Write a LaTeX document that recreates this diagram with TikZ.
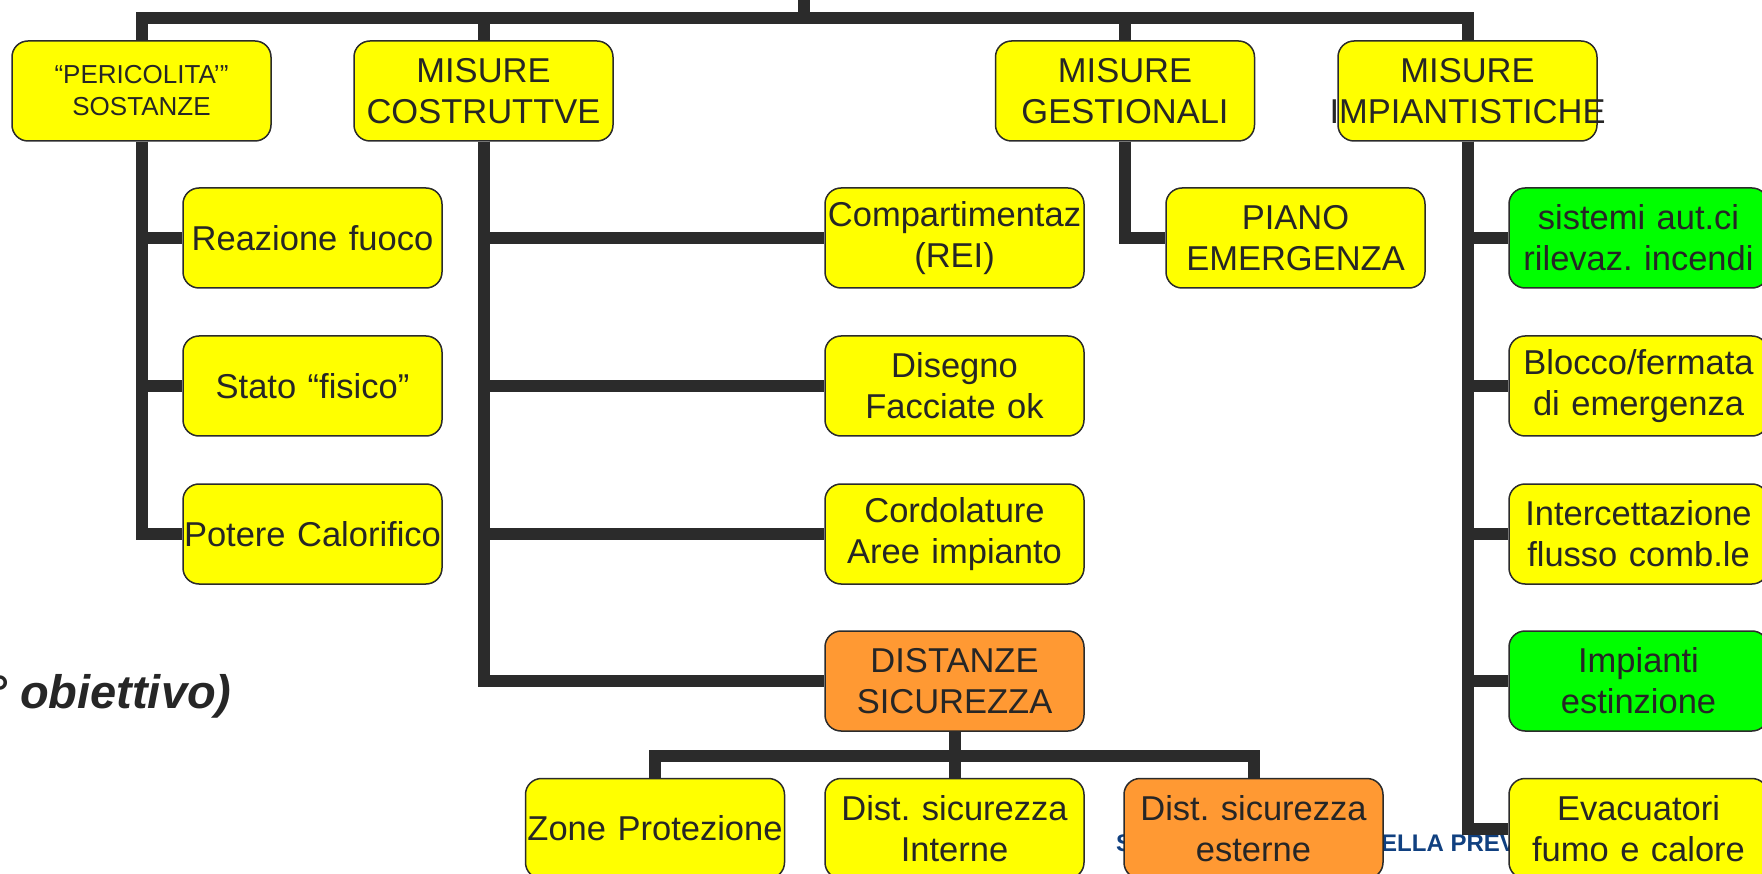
\documentclass[tikz,border=0pt]{standalone}
\usepackage{fontspec}
\setmainfont{Liberation Sans}
\usepackage{xcolor}
\usepackage{tikz}
\frenchspacing

\begin{document}
\begin{tikzpicture}[x=1pt, y=-1pt]
    % --- GLOBAL DEFINITIONS ---
    \def\bw{259pt} % box width
    \def\bh{100pt} % box height

    % Custom colors
    \definecolor{boxyellow}{RGB}{255, 255, 0}
    \definecolor{boxgreen}{RGB}{0, 255, 0}
    \definecolor{boxorange}{RGB}{255, 153, 51}
    \definecolor{linegray}{RGB}{43, 43, 43}
    \definecolor{textgray}{RGB}{38, 38, 38}
    \definecolor{footblue}{RGB}{16, 64, 128}

    % Boxes and thick elbow connectors
    \tikzset{
        box/.style={draw=linegray, line width=1.5pt, rounded corners=16pt, fill=boxyellow,
            text width=\bw, minimum height=\bh, inner sep=0pt, align=center, text=textgray,
            font=\fontsize{34.5}{41}\selectfont},
        greenbox/.style={box, fill=boxgreen},
        orangebox/.style={box, fill=boxorange},
        smalltext/.style={font=\fontsize{26}{32}\selectfont},
        conn/.style={draw=linegray, line width=12pt},
        footer/.style={text=footblue, inner sep=0pt, font=\fontsize{24}{28}\selectfont\bfseries},
        goal/.style={text=textgray, inner sep=0pt, font=\fontsize{47}{52}\selectfont\bfseries\itshape}
    }

    \useasboundingbox (0,0) rectangle (1762,874);

    % TEXT BEHIND THE BOXES
    \node[goal, anchor=base west] (goal) at (-12,708) {° obiettivo)};
    \node[footer, anchor=base west] (footS) at (1116,851) {S};
    \node[footer, anchor=base west] (footP) at (1381,851) {ELLA PREV};

    % TOP LEVEL
    \node[box, smalltext] (pericol) at (141.5,91) {“PERICOLITA’”\\SOSTANZE};
    \node[box] (costrut) at (483.5,91) {MISURE\\COSTRUTTVE};
    \node[box] (gestion) at (1125,91) {MISURE\\GESTIONALI};
    \node[box] (impiant) at (1467.5,91) {MISURE\\\makebox[\linewidth]{IMPIANTISTICHE}};

    % SOSTANZE
    \node[box] (reazione) at (312.5,238) {Reazione fuoco};
    \node[box] (stato) at (312.5,386) {Stato “fisico”};
    \node[box] (potere) at (312.5,534) {Potere Calorifico};

    % COSTRUTTIVE
    \node[box] (compart) at (954.5,238) {Compartimentaz\\(REI)};
    \node[box] (disegno) at (954.5,386) {Disegno\\Facciate ok};
    \node[box] (cordol) at (954.5,534) {Cordolature\\Aree impianto};
    \node[orangebox] (distanze) at (954.5,681) {DISTANZE\\SICUREZZA};
    \node[box] (zone) at (655,828.5) {Zone Protezione};
    \node[box] (interne) at (954.5,828.5) {Dist. sicurezza\\Interne};
    \node[orangebox] (esterne) at (1253.5,828.5) {Dist. sicurezza\\esterne};

    % GESTIONALI
    \node[box] (piano) at (1295.5,238) {PIANO\\EMERGENZA};

    % IMPIANTISTICHE
    \node[greenbox] (rilevaz) at (1638.5,238) {sistemi aut.ci\\rilevaz. incendi};
    \node[box] (blocco) at (1638.5,386) {Blocco/fermata\\di emergenza};
    \node[box] (intercett) at (1638.5,534) {Intercettazione\\flusso comb.le};
    \node[greenbox] (estinz) at (1638.5,681) {Impianti\\estinzione};
    \node[box] (evacuat) at (1638.5,828.5) {Evacuatori\\fumo e calore};

    % CONNECTORS
    \coordinate (root) at (804,-20);
    \coordinate (bus) at (804,18.5);
    \draw[conn] (root) -- (bus) -| (pericol.north);
    \draw[conn] (root) -- (bus) -| (costrut.north);
    \draw[conn] (root) -- (bus) -| (gestion.north);
    \draw[conn] (root) -- (bus) -| (impiant.north);

    \draw[conn] (pericol.south) |- (reazione.west);
    \draw[conn] (pericol.south) |- (stato.west);
    \draw[conn] (pericol.south) |- (potere.west);

    \draw[conn] (costrut.south) |- (compart.west);
    \draw[conn] (costrut.south) |- (disegno.west);
    \draw[conn] (costrut.south) |- (cordol.west);
    \draw[conn] (costrut.south) |- (distanze.west);

    \coordinate (dbus) at (954.5,755.5);
    \draw[conn] (distanze.south) -- (dbus) -| (zone.north);
    \draw[conn] (distanze.south) -- (interne.north);
    \draw[conn] (distanze.south) -- (dbus) -| (esterne.north);

    \draw[conn] (gestion.south) |- (piano.west);

    \draw[conn] (impiant.south) |- (rilevaz.west);
    \draw[conn] (impiant.south) |- (blocco.west);
    \draw[conn] (impiant.south) |- (intercett.west);
    \draw[conn] (impiant.south) |- (estinz.west);
    \draw[conn] (impiant.south) |- (evacuat.west);
\end{tikzpicture}
\end{document}
